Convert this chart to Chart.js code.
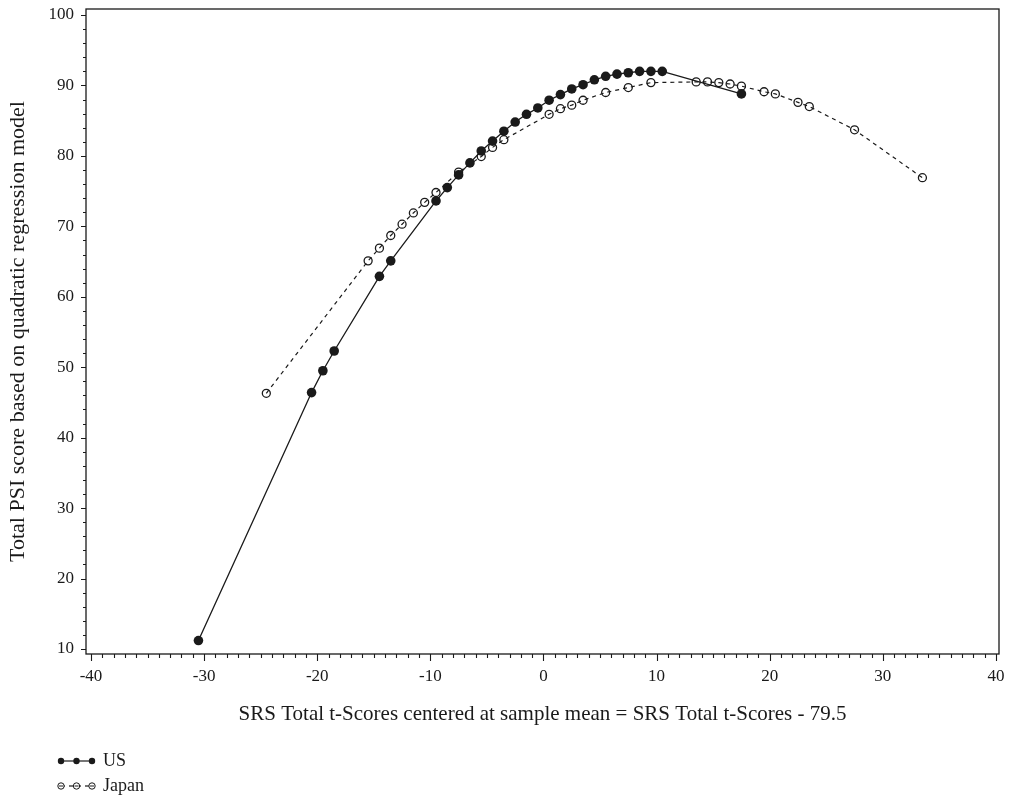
<!DOCTYPE html>
<html>
<head>
<meta charset="utf-8">
<title>PSI vs SRS</title>
<script src="https://cdn.jsdelivr.net/npm/chart.js@4/dist/chart.umd.min.js"></script>
<style>
    html, body { margin: 0; padding: 0; background: #fff; }
    canvas { display: block; }
</style>
</head>
<body>
<canvas id="psiChart" width="1011" height="803"></canvas>
<script>
// SRS total t-score (centered) vs fitted PSI total score
const usX = [-30.5, -20.5, -19.5, -18.5, -14.5, -13.5, -9.5, -8.5, -7.5, -6.5, -5.5, -4.5, -3.5, -2.5,
    -1.5, -0.5, 0.5, 1.5, 2.5, 3.5, 4.5, 5.5, 6.5, 7.5, 8.5, 9.5, 10.5, 17.5];
const usY = [11.2, 46.4, 49.5, 52.3, 62.9, 65.1, 73.6, 75.5, 77.3, 79.0, 80.7, 82.1, 83.5, 84.8,
    85.9, 86.8, 87.9, 88.7, 89.5, 90.1, 90.8, 91.3, 91.6, 91.8, 92.0, 92.0, 92.0, 88.8];

const japanX = [-24.5, -15.5, -14.5, -13.5, -12.5, -11.5, -10.5, -9.5, -7.5, -5.5, -4.5, -3.5, 0.5, 1.5,
    2.5, 3.5, 5.5, 7.5, 9.5, 13.5, 14.5, 15.5, 16.5, 17.5, 19.5, 20.5, 22.5, 23.5, 27.5, 33.5];
const japanY = [46.3, 65.1, 66.9, 68.7, 70.3, 71.9, 73.4, 74.8, 77.7, 79.9, 81.2, 82.3, 85.9, 86.7,
    87.2, 87.9, 89.0, 89.7, 90.4, 90.5, 90.5, 90.4, 90.2, 89.9, 89.1, 88.8, 87.6, 87.0, 83.7, 76.9];

const xTickLabels = [-40, -30, -20, -10, 0, 10, 20, 30, 40];
const yTickLabels = [10, 20, 30, 40, 50, 60, 70, 80, 90, 100];

const serif = '"Liberation Serif", "DejaVu Serif", serif';
const ink = '#1a1a1a';

const toPoints = (xs, ys) => xs.map((x, i) => ({ x, y: ys[i] }));

// frame, major/minor ticks and the bottom legend
const framePlugin = {
    id: 'frameTicks',
    afterDraw(chart) {
        const { ctx, chartArea: a, scales: { x, y } } = chart;
        ctx.save();
        ctx.strokeStyle = ink;
        ctx.lineWidth = 1.3;
        ctx.strokeRect(a.left, a.top, a.right - a.left, a.bottom - a.top);

        ctx.lineWidth = 1.1;
        ctx.beginPath();
        for (let v = -40; v <= 40; v++) {
            const px = Math.round(x.getPixelForValue(v)) + 0.5;
            const len = v % 10 === 0 ? 7 : 4;
            ctx.moveTo(px, a.bottom);
            ctx.lineTo(px, a.bottom + len);
        }
        for (let v = 10; v <= 100; v += 2) {
            const py = Math.round(y.getPixelForValue(v)) + 0.5;
            const len = v % 10 === 0 ? 5 : 3;
            ctx.moveTo(a.left, py);
            ctx.lineTo(a.left - len, py);
        }
        ctx.stroke();

        // legend: three joined markers per series
        chart.data.datasets.forEach((ds, i) => {
            const ly = 761 + i * 25;
            ctx.lineWidth = 1.2;
            ctx.strokeStyle = ink;
            ctx.setLineDash(ds.borderDash || []);
            ctx.beginPath();
            ctx.moveTo(61, ly);
            ctx.lineTo(92, ly);
            ctx.stroke();
            ctx.setLineDash([]);
            [61, 76.5, 92].forEach((lx) => {
                ctx.beginPath();
                ctx.arc(lx, ly, 3.2, 0, Math.PI * 2);
                if (ds.pointBackgroundColor !== 'transparent') {
                    ctx.fillStyle = ds.pointBackgroundColor;
                    ctx.fill();
                } else {
                    ctx.fillStyle = '#fff';
                    ctx.fill();
                    ctx.lineWidth = 1;
                    ctx.stroke();
                    ctx.beginPath();
                    ctx.moveTo(lx - 2, ly);
                    ctx.lineTo(lx + 2, ly);
                    ctx.stroke();
                }
            });
            ctx.fillStyle = ink;
            ctx.font = `18px ${serif}`;
            ctx.textBaseline = 'middle';
            ctx.textAlign = 'left';
            ctx.fillText(ds.label, 103, ly);
        });
        ctx.restore();
    },
};

new Chart(document.getElementById('psiChart'), {
    type: 'scatter',
    data: {
        datasets: [
            {
                label: 'US',
                data: toPoints(usX, usY),
                showLine: true,
                borderColor: ink,
                borderWidth: 1.3,
                pointRadius: 4.8,
                pointBorderWidth: 0,
                pointBackgroundColor: ink,
            },
            {
                label: 'Japan',
                data: toPoints(japanX, japanY),
                showLine: true,
                borderColor: ink,
                borderWidth: 1.2,
                borderDash: [4, 4],
                pointRadius: 4,
                pointBorderWidth: 1.3,
                pointBorderColor: ink,
                pointBackgroundColor: 'transparent',
            },
        ],
    },
    options: {
        responsive: false,
        devicePixelRatio: 1,
        animation: false,
        layout: { padding: { left: 0, top: 9, right: 12, bottom: 0 } },
        plugins: {
            legend: { display: false },
            tooltip: { enabled: false },
        },
        scales: {
            x: {
                type: 'linear',
                min: -40.44,
                max: 40.27,
                afterFit: (scale) => {
                    scale.height = 149;
                    scale.paddingLeft = 0;
                    scale.paddingRight = 0;
                },
                afterBuildTicks: (scale) => { scale.ticks = xTickLabels.map((value) => ({ value })); },
                grid: { display: false, drawTicks: false },
                border: { display: false },
                ticks: {
                    color: ink,
                    padding: 12,
                    maxRotation: 0,
                    font: { family: serif, size: 17 },
                },
                title: {
                    display: true,
                    text: 'SRS Total t-Scores centered at sample mean = SRS Total t-Scores - 79.5',
                    color: ink,
                    font: { family: serif, size: 21 },
                    padding: { top: 0, bottom: 76 },
                },
            },
            y: {
                type: 'linear',
                min: 9.29,
                max: 100.85,
                afterFit: (scale) => {
                    scale.width = 86;
                    scale.paddingTop = 0;
                    scale.paddingBottom = 0;
                },
                afterBuildTicks: (scale) => { scale.ticks = yTickLabels.map((value) => ({ value })); },
                grid: { display: false, drawTicks: false },
                border: { display: false },
                ticks: {
                    color: ink,
                    padding: 12,
                    font: { family: serif, size: 17 },
                },
                title: {
                    display: true,
                    text: 'Total PSI score based on quadratic regression model',
                    color: ink,
                    font: { family: serif, size: 22 },
                    padding: { top: 5, bottom: 0 },
                },
            },
        },
    },
    plugins: [framePlugin],
});
</script>
</body>
</html>
